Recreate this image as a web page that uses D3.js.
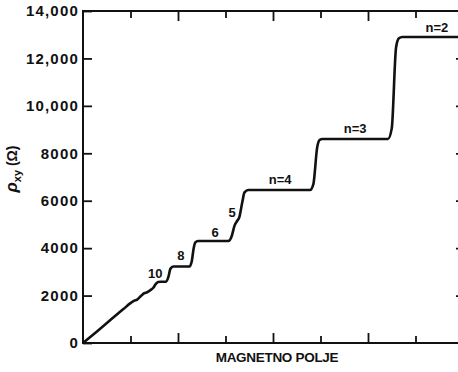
<!DOCTYPE html>
<html>
<head>
<meta charset="utf-8">
<script src="https://cdn.jsdelivr.net/npm/d3@7"></script>
<style>
  body { margin: 0; background: #fff; }
  svg { display: block; }
  text { font-family: "Liberation Sans", Arial, sans-serif; font-weight: bold; fill: #111; }
</style>
</head>
<body>
<div class="chart-container"></div>
<script>
// Hall resistance vs magnetic field
const fieldB = [0, 0.30, 0.60, 0.85, 1.00, 1.08, 1.14, 1.22, 1.29, 1.35, 1.42, 1.48, 1.53, 1.58, 1.64,
  1.74, 1.80, 1.84, 1.90, 2.24, 2.29, 2.33, 2.37, 2.42, 3.06, 3.13, 3.19, 3.25, 3.29, 3.35, 3.40, 3.48,
  4.78, 4.85, 4.93, 4.98, 5.04, 6.42, 6.50, 6.59, 6.65, 6.72, 8.00];
const rhoXY = [0, 500, 1010, 1430, 1680, 1790, 1830, 1980, 2100, 2140, 2230, 2330, 2480, 2570, 2581,
  2581, 2800, 3130, 3226, 3226, 3450, 4000, 4250, 4302, 4302, 4500, 4950, 5163, 5300, 5900, 6350, 6453,
  6453, 6700, 8250, 8560, 8604, 8604, 9050, 12450, 12850, 12906, 12906];

// plateau labels
const plateauText = ["10", "8", "6", "5", "n=4", "n=3", "n=2"];
const plateauB = [1.52, 2.06, 2.78, 3.14, 4.15, 5.73, 7.45];
const plateauRho = [2740, 3500, 4470, 5310, 6700, 8850, 13100];

const yTicks = [0, 2000, 4000, 6000, 8000, 10000, 12000, 14000];
const yTickLabels = ["0", "2000", "4000", "6000", "8000", "10,000", "12,000", "14,000"];
const majorB = [2, 4, 6];
const minorB = [1, 3, 5, 7];

const width = 458;
const height = 372;

const svg = d3.select(".chart-container")
  .append("svg")
  .attr("width", width)
  .attr("height", height);

const x = d3.scaleLinear().domain([0, 8]).range([83, 463]);
const y = d3.scaleLinear().domain([0, 14000]).range([343, 11]);

// frame
svg.append("rect")
  .attr("x", x(0))
  .attr("y", y(14000))
  .attr("width", x(8) - x(0))
  .attr("height", y(0) - y(14000))
  .attr("fill", "none")
  .attr("stroke", "#111")
  .attr("stroke-width", 2);

function styleAxis(g) {
  g.select(".domain").remove();
  g.selectAll(".tick line").attr("stroke", "#111").attr("stroke-width", 1.8);
}

// left axis with labels
const labelOf = new Map(yTicks.map((v, i) => [v, yTickLabels[i]]));
svg.append("g")
  .attr("transform", `translate(${x(0)},0)`)
  .call(d3.axisLeft(y).tickValues(yTicks).tickSize(-9).tickPadding(4)
    .tickFormat((d) => labelOf.get(d)))
  .call(styleAxis)
  .call((g) => g.selectAll("text")
    .style("font-size", "15px")
    .style("font-weight", "bold")
    .style("letter-spacing", "1.2px")
    .attr("fill", "#111"));

// right axis ticks
svg.append("g")
  .attr("transform", `translate(${x(8)},0)`)
  .call(d3.axisRight(y).tickValues(yTicks.slice(1, -1)).tickSize(-7).tickFormat(""))
  .call(styleAxis);

// bottom and top ticks
[[majorB, 10], [minorB, 7]].forEach(([vals, len]) => {
  svg.append("g")
    .attr("transform", `translate(0,${y(0)})`)
    .call(d3.axisBottom(x).tickValues(vals).tickSize(-len).tickFormat(""))
    .call(styleAxis);
  svg.append("g")
    .attr("transform", `translate(0,${y(14000)})`)
    .call(d3.axisTop(x).tickValues(vals).tickSize(-len).tickFormat(""))
    .call(styleAxis);
});

// curve
const points = fieldB.map((b, i) => [b, rhoXY[i]]);
const line = d3.line()
  .x((d) => x(d[0]))
  .y((d) => y(d[1]))
  .curve(d3.curveMonotoneX);

svg.append("path")
  .datum(points)
  .attr("d", line)
  .attr("fill", "none")
  .attr("stroke", "#111")
  .attr("stroke-width", 2.6)
  .attr("stroke-linejoin", "round");

// plateau labels
svg.selectAll(".plateau")
  .data(plateauText)
  .enter()
  .append("text")
  .attr("class", "plateau")
  .attr("x", (d, i) => x(plateauB[i]))
  .attr("y", (d, i) => y(plateauRho[i]))
  .attr("text-anchor", "middle")
  .style("font-size", "13px")
  .text((d) => d);

// axis titles
svg.append("text")
  .attr("x", 277)
  .attr("y", 362)
  .attr("text-anchor", "middle")
  .style("font-size", "13.5px")
  .style("letter-spacing", "-0.3px")
  .text("MAGNETNO POLJE");

const yTitle = svg.append("text")
  .attr("transform", "translate(17,169) rotate(-90)")
  .attr("text-anchor", "middle")
  .style("font-size", "14px");
yTitle.append("tspan").style("font-style", "italic").style("font-size", "17px").text("ρ");
yTitle.append("tspan").attr("dy", 4).style("font-size", "11px").text("xy");
yTitle.append("tspan").attr("dy", -4).text(" (Ω)");
</script>
</body>
</html>
